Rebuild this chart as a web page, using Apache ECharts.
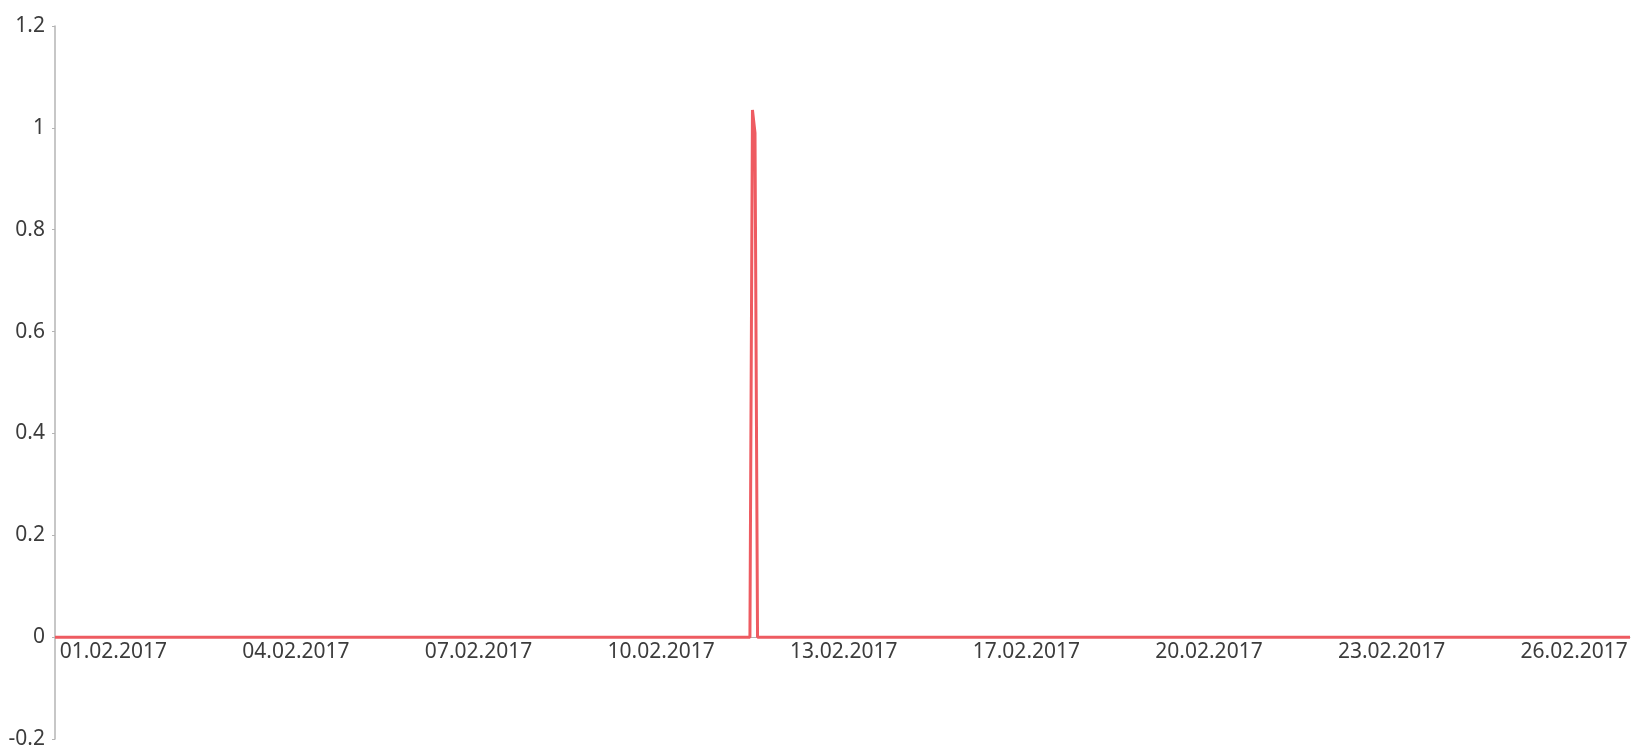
<!DOCTYPE html>
<html>
<head>
<meta charset="utf-8">
<title>chart</title>
<script src="https://cdn.jsdelivr.net/npm/echarts@6/dist/echarts.min.js"></script>
<style>
    html, body { margin: 0; padding: 0; background: #fff; }
    #chart { width: 1633px; height: 751px; }
</style>
</head>
<body>
<div id="chart"></div>
<script>
// x is the sample index (hours), labels every 72 samples
const labelPos = [0, 72, 144, 216, 288, 360, 432, 504, 576];
const xLabels = ['01.02.2017', '04.02.2017', '07.02.2017', '10.02.2017', '13.02.2017',
                 '17.02.2017', '20.02.2017', '23.02.2017', '26.02.2017'];
const sampleIdx = [-23, 251, 252, 253, 254, 598];
const values = [0, 0, 1.035, 0.99, 0, 0];

const chart = echarts.init(document.getElementById('chart'));
const font = '"Noto Sans", "Open Sans", sans-serif';

const gridTop = 26, gridBottom = 12, plotH = 751 - gridTop - gridBottom;
// x axis sits on the zero line: 0.2 of the 1.4 range above the bottom edge
const zeroOffset = -plotH * 0.2 / 1.4;

chart.setOption({
    animation: false,
    grid: { left: 55, right: 3, top: gridTop, bottom: gridBottom, containLabel: false },
    xAxis: {
        type: 'value',
        min: -23,
        max: 598,
        offset: zeroOffset,
        axisLine: { show: true, onZero: false, lineStyle: { color: '#b4b4b4', width: 1 } },
        axisTick: { show: false },
        splitLine: { show: false },
        axisLabel: {
            customValues: labelPos,
            margin: 4,
            fontSize: 21,
            fontFamily: font,
            color: '#3c3c3c',
            formatter: (v) => xLabels[labelPos.indexOf(v)]
        }
    },
    yAxis: {
        type: 'value',
        min: -0.2,
        max: 1.2,
        interval: 0.2,
        axisLine: { show: true, onZero: false, lineStyle: { color: '#b4b4b4', width: 1.5 } },
        axisTick: { show: true, length: 3, lineStyle: { color: '#b4b4b4' } },
        splitLine: { show: false },
        axisLabel: {
            margin: 10,
            fontSize: 21,
            fontFamily: font,
            color: '#3c3c3c',
            formatter: (v) => String(Math.round(v * 10) / 10)
        }
    },
    series: [{
        type: 'line',
        data: sampleIdx.map((x, i) => [x, values[i]]),
        symbol: 'none',
        lineStyle: { color: '#ee5b61', width: 3 },
        z: 3
    }]
});
</script>
</body>
</html>
